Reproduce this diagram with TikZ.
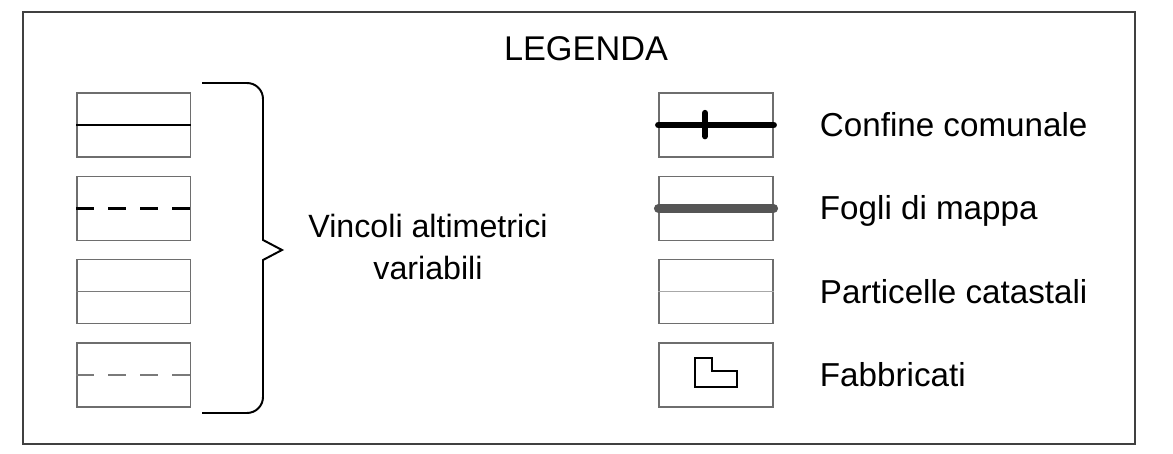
\documentclass[tikz,border=0pt]{standalone}
\usepackage{fontspec}
\setmainfont{Liberation Sans}
\usepackage{xcolor}
\usepackage{tikz}
\usetikzlibrary{positioning}
\usetikzlibrary{calc}
\definecolor{framegray}{HTML}{404040}
\definecolor{boxgray}{HTML}{6E6E6E}
\definecolor{midgray}{HTML}{7A7A7A}
\definecolor{thingray}{HTML}{A8A8A8}
\definecolor{fogligray}{HTML}{555555}

\begin{document}
\begin{tikzpicture}[transform shape,scale=1,
		legbox/.style={draw=boxgray,line width=1.1pt,minimum width=2.84cm,minimum height=1.6cm,inner sep=0pt},
		legtext/.style={anchor=base west,font=\fontsize{23.6}{28}\selectfont},
		midtext/.style={anchor=base,font=\fontsize{22.9}{28}\selectfont},
		dashpat/.style={dash pattern=on 0.46cm off 0.34cm}]
		\useasboundingbox (0,0) rectangle (29.325,11.35);
		\draw[framegray,line width=1.4pt] (0.575,0.25) rectangle (28.375,11.05);
		\node[midtext,font=\fontsize{24.4}{28}\selectfont] (titolo) at (14.65,9.825) {LEGENDA};
		% vincoli altimetrici
		\node[legbox] (v1) at (3.34,8.225) {};
		\node[legbox] (v2) at (3.34,6.14) {};
		\node[legbox] (v3) at (3.34,4.06) {};
		\node[legbox] (v4) at (3.34,1.975) {};
		\draw[black,line width=1.5pt] (v1.west) -- (v1.east);
		\draw[black,line width=1.9pt,dashpat] (v2.west) -- (v2.east);
		\draw[midgray,line width=1.1pt] (v3.west) -- (v3.east);
		\draw[midgray,line width=1.8pt,dashpat] (v4.west) -- (v4.east);
		\draw[line width=1.4pt] (5.05,9.275) -- (6.175,9.275) arc[start angle=90,end angle=0,radius=0.4] -- (6.575,5.35) -- (7.05,5.1) -- (6.575,4.85) -- (6.575,1.425) arc[start angle=0,end angle=-90,radius=0.4] -- (5.05,1.025);
		\node[midtext] (vincA) at (10.7,5.4) {Vincoli altimetrici};
		\node[midtext] (vincB) at (10.7,4.35) {variabili};
		% catasto
		\node[legbox] (c1) at (17.9,8.225) {};
		\node[legbox] (c2) at (17.9,6.14) {};
		\node[legbox] (c3) at (17.9,4.06) {};
		\node[legbox] (c4) at (17.9,1.975) {};
		\draw[black,line width=4.8pt,line cap=round] (c1.west) -- (c1.east);
		\draw[black,line width=4.5pt,line cap=round] ($(c1.center)+(-0.275,0.3)$) -- ($(c1.center)+(-0.275,-0.28)$);
		\draw[fogligray,line width=6.4pt,line cap=round] (c2.west) -- (c2.east);
		\draw[thingray,line width=0.8pt] (c3.west) -- (c3.east);
		\draw[line width=1.4pt] (17.375,2.4) -- (17.8,2.4) -- (17.8,2.075) -- (18.425,2.075) -- (18.425,1.675) -- (17.375,1.675) -- cycle;
		\node[legtext] (confine) at (20.375,7.935) {Confine comunale};
		\node[legtext] (fogli) at (20.375,5.85) {Fogli di mappa};
		\node[legtext] (particelle) at (20.375,3.77) {Particelle catastali};
		\node[legtext] (fabbricati) at (20.375,1.685) {Fabbricati};
	\end{tikzpicture}
\end{document}
